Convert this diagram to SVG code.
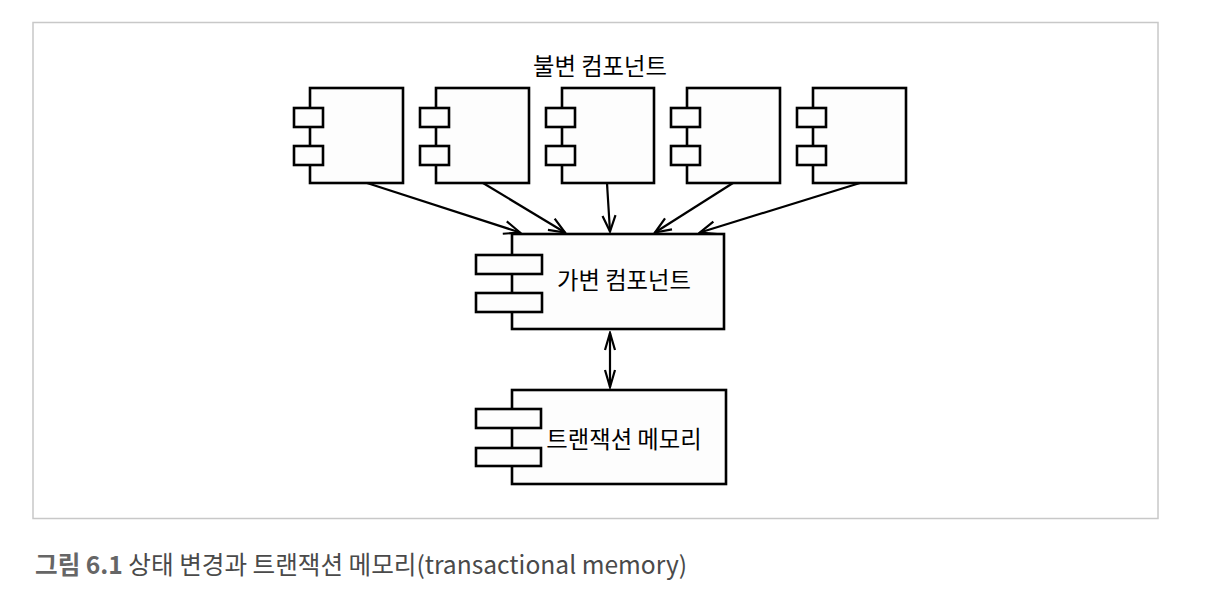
<svg xmlns="http://www.w3.org/2000/svg" width="1207" height="608" viewBox="0 0 1207 608">
<style>
.box{fill:#fdfdfd;stroke:#000;stroke-width:2.6}
.conn{fill:none;stroke:#000;stroke-width:2.2}
.lbl{font-family:"Noto Sans CJK KR","Noto Sans",sans-serif;font-size:23.3px;fill:#000}
.cap{font-family:"Noto Sans CJK KR","Noto Sans",sans-serif;font-size:24.6px;fill:#4a4a4a}
</style>
<defs>
<marker id="ah" markerUnits="userSpaceOnUse" markerWidth="20" markerHeight="20" refX="0" refY="0" viewBox="-18 -10 20 20" orient="auto">
<path d="M-16,-6.5 L0,0 L-16,6.5" fill="none" stroke="#000" stroke-width="2.2"/>
</marker>
<marker id="ahs" markerUnits="userSpaceOnUse" markerWidth="20" markerHeight="20" refX="0" refY="0" viewBox="-18 -10 20 20" orient="auto-start-reverse">
<path d="M-17,-5 L0,0 L-17,5" fill="none" stroke="#000" stroke-width="2.2"/>
</marker>
</defs>
<rect x="33" y="22.5" width="1125" height="496" fill="#fff" stroke="#c8c8c8" stroke-width="1.5"/>
<text class="lbl" x="600" y="75" text-anchor="middle">불변 컴포넌트</text>
<g id="imm1">
<rect class="box" x="310" y="88" width="93" height="95"/>
<rect class="box" x="294" y="108" width="29" height="19"/>
<rect class="box" x="294" y="146" width="29" height="19"/>
</g>
<g id="imm2">
<rect class="box" x="436" y="88" width="93" height="95"/>
<rect class="box" x="420" y="108" width="29" height="19"/>
<rect class="box" x="420" y="146" width="29" height="19"/>
</g>
<g id="imm3">
<rect class="box" x="562" y="88" width="92" height="95"/>
<rect class="box" x="546" y="108" width="29" height="19"/>
<rect class="box" x="546" y="146" width="29" height="19"/>
</g>
<g id="imm4">
<rect class="box" x="687" y="88" width="93" height="95"/>
<rect class="box" x="671" y="108" width="29" height="19"/>
<rect class="box" x="671" y="146" width="29" height="19"/>
</g>
<g id="imm5">
<rect class="box" x="813" y="88" width="93" height="95"/>
<rect class="box" x="797" y="108" width="29" height="19"/>
<rect class="box" x="797" y="146" width="29" height="19"/>
</g>
<g id="mutable">
<rect class="box" x="512" y="234" width="212" height="95"/>
<rect class="box" x="476" y="255" width="66" height="19"/>
<rect class="box" x="476" y="293" width="66" height="19"/>
<text class="lbl" x="624" y="289" text-anchor="middle">가변 컴포넌트</text>
</g>
<g id="memory">
<rect class="box" x="512" y="390" width="214" height="94"/>
<rect class="box" x="476" y="409" width="65" height="19"/>
<rect class="box" x="476" y="448" width="65" height="18"/>
<text class="lbl" x="624" y="448" text-anchor="middle">트랜잭션 메모리</text>
</g>
<g id="connectors">
<line class="conn" x1="367" y1="183" x2="520" y2="232.5" marker-end="url(#ah)"/>
<line class="conn" x1="483" y1="183" x2="565" y2="232.5" marker-end="url(#ah)"/>
<line class="conn" x1="607" y1="183" x2="610" y2="231.5" marker-end="url(#ah)"/>
<line class="conn" x1="733" y1="183" x2="655" y2="232.5" marker-end="url(#ah)"/>
<line class="conn" x1="860" y1="183" x2="700" y2="232.5" marker-end="url(#ah)"/>
<line class="conn" x1="610" y1="333" x2="610" y2="387" marker-start="url(#ahs)" marker-end="url(#ahs)"/>
</g>
<text class="cap" x="35" y="574"><tspan font-weight="bold" fill="#666">그림 6.1</tspan> 상태 변경과 트랜잭션 메모리(transactional memory)</text>
</svg>
